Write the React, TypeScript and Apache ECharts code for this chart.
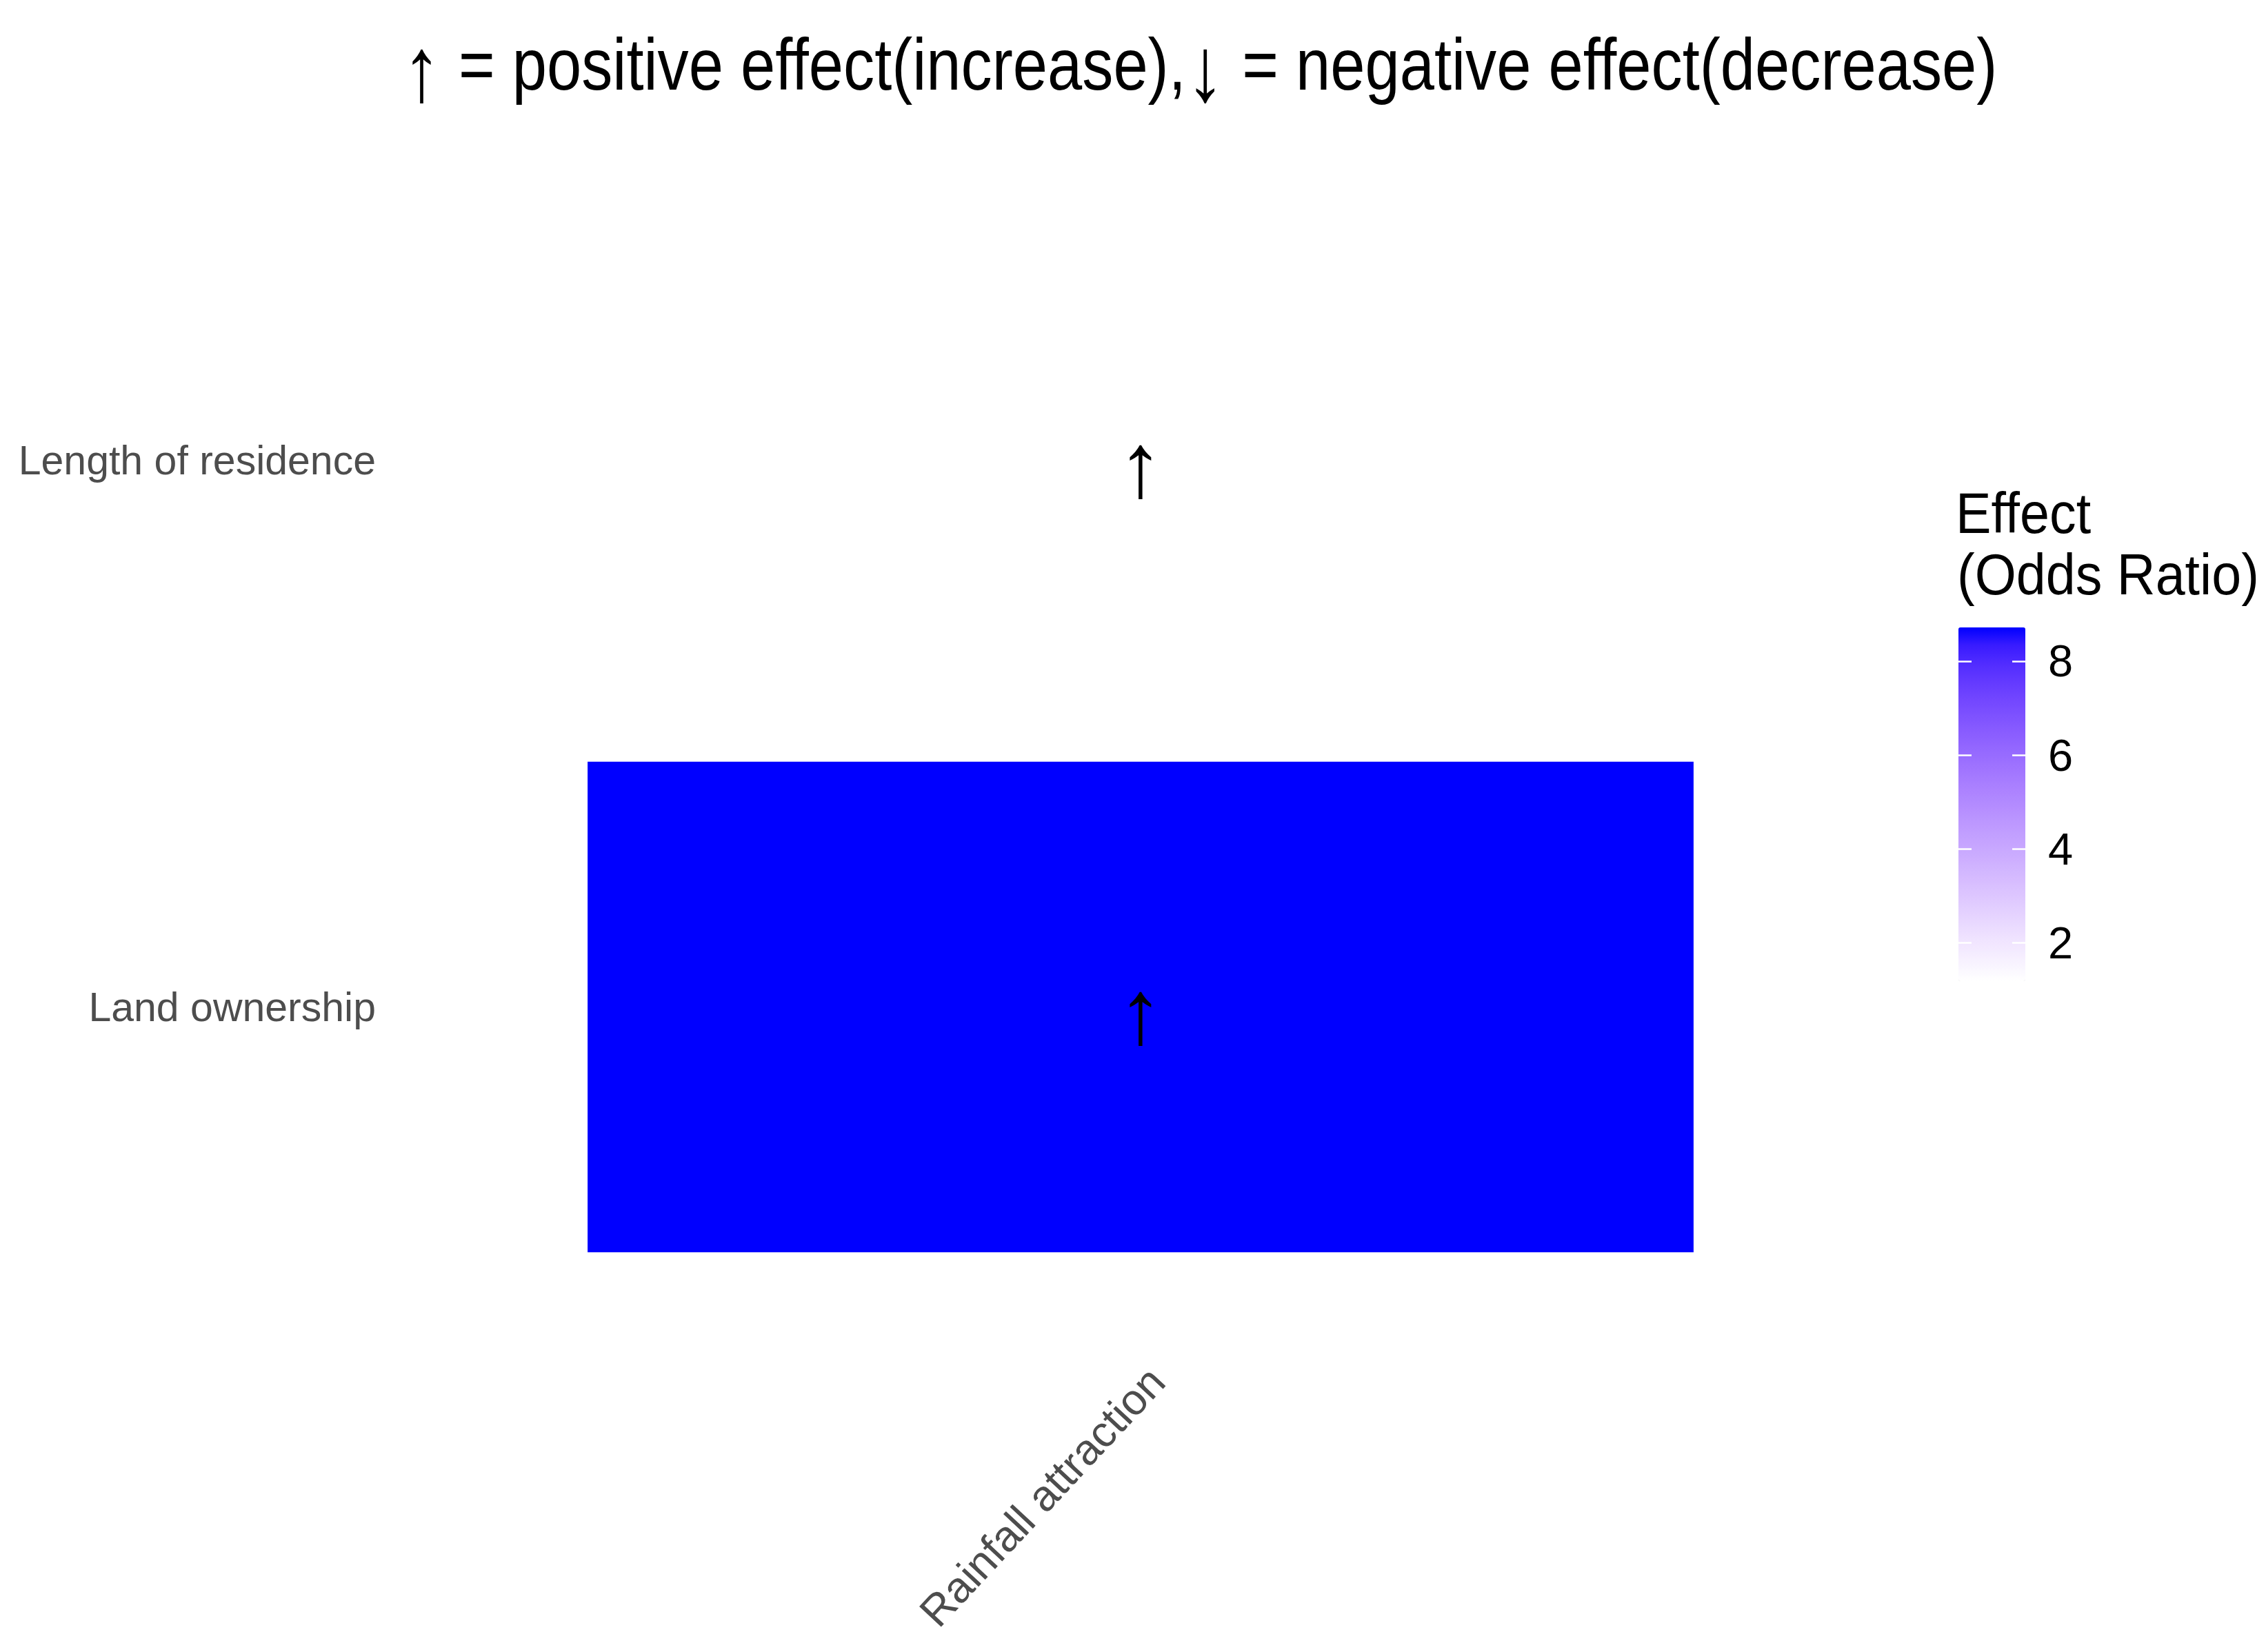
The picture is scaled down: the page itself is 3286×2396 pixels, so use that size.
import React, { useEffect, useRef } from "react";
import * as echarts from "echarts";

// ---------- data ----------
const predictors = ["Rainfall attraction"];
const factors = ["Land ownership", "Length of residence"];
const oddsRatios = [8.72, 1.18];
const effectArrows = ["↑", "↑"];
const legendTicks = [2, 4, 6, 8];
const titleRich = "{a|↑} = positive effect(increase),{a|↓} = negative effect(decrease)";
const legendTitle = ["Effect", "(Odds Ratio)"];

const FONT = "Liberation Sans, Arial, sans-serif";
const TILE_W = 0.733;
const TILE_H = 0.897;

// ---- Lab interpolation white -> blue (like ggplot scale_fill_gradient) ----
function toLin(c: number) {
  c /= 255;
  return c <= 0.04045 ? c / 12.92 : Math.pow((c + 0.055) / 1.055, 2.4);
}
function fromLin(c: number) {
  c = Math.max(0, Math.min(1, c));
  return 255 * (c <= 0.0031308 ? 12.92 * c : 1.055 * Math.pow(c, 1 / 2.4) - 0.055);
}
function rgb2lab(r: number, g: number, b: number) {
  const R = toLin(r), G = toLin(g), B = toLin(b);
  const X = (0.4124 * R + 0.3576 * G + 0.1805 * B) / 0.95047;
  const Y = 0.2126 * R + 0.7152 * G + 0.0722 * B;
  const Z = (0.0193 * R + 0.1192 * G + 0.9505 * B) / 1.08883;
  const f = (t: number) => (t > 0.008856 ? Math.cbrt(t) : 7.787 * t + 16 / 116);
  const fx = f(X), fy = f(Y), fz = f(Z);
  return [116 * fy - 16, 500 * (fx - fy), 200 * (fy - fz)];
}
function lab2hex(L: number, a: number, b: number) {
  const fy = (L + 16) / 116, fx = fy + a / 500, fz = fy - b / 200;
  const fi = (t: number) => (t * t * t > 0.008856 ? t * t * t : (t - 16 / 116) / 7.787);
  const X = fi(fx) * 0.95047, Y = fi(fy), Z = fi(fz) * 1.08883;
  const R = 3.2406 * X - 1.5372 * Y - 0.4986 * Z;
  const G = -0.9689 * X + 1.8758 * Y + 0.0415 * Z;
  const B = 0.0557 * X - 0.204 * Y + 1.057 * Z;
  const h = (v: number) => Math.round(fromLin(v)).toString(16).padStart(2, "0");
  return "#" + h(R) + h(G) + h(B);
}
function gradientStops(n: number) {
  const lo = rgb2lab(255, 255, 255);
  const hi = rgb2lab(0, 0, 255);
  const out: string[] = [];
  for (let i = 0; i < n; i++) {
    const t = i / (n - 1);
    out.push(lab2hex(lo[0] + (hi[0] - lo[0]) * t, lo[1] + (hi[1] - lo[1]) * t, lo[2] + (hi[2] - lo[2]) * t));
  }
  return out;
}

export default function App() {
  const ref = useRef<HTMLDivElement>(null);
  useEffect(() => {
    if (!ref.current) return;
    const chart = echarts.init(ref.current, undefined, { renderer: "svg" });
    const vMin = Math.min(...oddsRatios);
    const vMax = Math.max(...oddsRatios);
    const data = oddsRatios.map((v, i) => [0, i, v]);

    const option: any = {
      animation: false,
      backgroundColor: "#ffffff",
      grid: [
        { left: 560, right: 538, top: 271, bottom: 539 },
        { left: 2840, top: 910, width: 97, height: 513 },
      ],
      xAxis: [
        {
          type: "category",
          gridIndex: 0,
          data: predictors,
          axisLine: { show: false },
          axisTick: { show: false },
          splitLine: { show: false },
          axisLabel: {
            rotate: 47,
            align: "right",
            verticalAlign: "top",
            margin: 114,
            fontSize: 63,
            fontFamily: FONT,
            color: "#4D4D4D",
          },
        },
        { type: "value", gridIndex: 1, show: false, min: 0, max: 1 },
      ],
      yAxis: [
        {
          type: "category",
          gridIndex: 0,
          data: factors,
          axisLine: { show: false },
          axisTick: { show: false },
          splitLine: { show: false },
          axisLabel: { margin: 15, fontSize: 59, fontFamily: FONT, color: "#4D4D4D" },
        },
        {
          type: "value",
          gridIndex: 1,
          position: "left",
          min: vMin,
          max: vMax,
          z: 10,
          axisLine: { show: false },
          splitLine: { show: false },
          axisTick: { show: true, inside: true, length: 19, customValues: legendTicks, lineStyle: { color: "#ffffff", width: 2.5 } },
          axisLabel: { show: false },
        },
        {
          type: "value",
          gridIndex: 1,
          position: "right",
          min: vMin,
          max: vMax,
          z: 10,
          axisLine: { show: false },
          splitLine: { show: false },
          axisTick: { show: true, inside: true, length: 19, customValues: legendTicks, lineStyle: { color: "#ffffff", width: 2.5 } },
          axisLabel: { show: true, customValues: legendTicks, margin: 33, fontSize: 65, fontFamily: FONT, color: "#000000" },
        },
      ],
      visualMap: {
        type: "continuous",
        min: vMin,
        max: vMax,
        dimension: 2,
        seriesIndex: 0,
        orient: "vertical",
        left: 2840,
        top: 910,
        itemWidth: 97,
        itemHeight: 513,
        padding: 0,
        calculable: false,
        inRange: { color: gradientStops(21) },
      },
      series: [
        {
          type: "custom",
          xAxisIndex: 0,
          yAxisIndex: 0,
          data,
          renderItem: (params: any, api: any) => {
            const c = api.coord([api.value(0), api.value(1)]);
            const s = api.size([1, 1]);
            const w = s[0] * TILE_W;
            const h = s[1] * TILE_H;
            return {
              type: "group",
              children: [
                {
                  type: "rect",
                  shape: { x: c[0] - w / 2, y: c[1] - h / 2, width: w, height: h },
                  style: { fill: api.visual("color") },
                },
                {
                  type: "text",
                  x: c[0],
                  y: c[1] + 7,
                  z2: 10,
                  style: {
                    text: effectArrows[params.dataIndex],
                    fontSize: 132,
                    fontFamily: FONT,
                    fill: "#000000",
                    align: "center",
                    verticalAlign: "middle",
                  },
                },
              ],
            };
          },
        },
      ],
      graphic: [
        {
          type: "text",
          x: 1740,
          y: 93,
          scaleX: 0.852,
          z: 100,
          style: {
            text: titleRich,
            fontSize: 106,
            fontFamily: FONT,
            fill: "#000000",
            align: "center",
            verticalAlign: "middle",
            rich: { a: { fontSize: 132, fontFamily: FONT, fill: "#000000", padding: [14, 0, 0, 0] } },
          },
        },
        {
          type: "text",
          x: 2836,
          y: 744,
          scaleX: 0.92,
          z: 100,
          style: { text: legendTitle[0], fontSize: 84, fontFamily: FONT, fill: "#000000", align: "left", verticalAlign: "middle" },
        },
        {
          type: "text",
          x: 2838,
          y: 833,
          scaleX: 0.92,
          z: 100,
          style: { text: legendTitle[1], fontSize: 84, fontFamily: FONT, fill: "#000000", align: "left", verticalAlign: "middle" },
        },
      ],
    };
    chart.setOption(option);
    return () => chart.dispose();
  }, []);
  return <div ref={ref} style={{ position: "absolute", left: 0, top: 0, width: 3286, height: 2396 }} />;
}
